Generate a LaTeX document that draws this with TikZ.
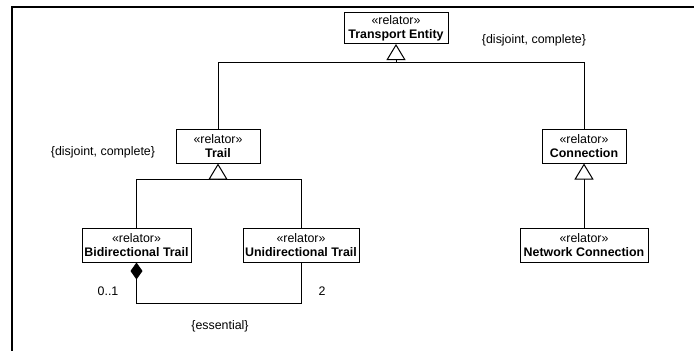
\documentclass[tikz,border=0pt]{standalone}
\usepackage{fontspec}
\setmainfont{Liberation Sans}
\usetikzlibrary{arrows.meta,calc}
\begin{document}
\begin{tikzpicture}[x=1pt,y=-1pt,
  every node/.style={font=\fontsize{12.4}{14}\selectfont},
  cls/.style={draw,line width=1pt,fill=white,inner sep=0pt,align=center,minimum height=34pt},
  gen/.style={draw,line width=1pt,-{Triangle[open,fill=white,length=16pt,width=19pt,line width=1pt]}},
  comp/.style={draw,line width=1pt,{Diamond[length=17pt,width=12pt]}-},
  lbl/.style={inner sep=0pt}
]
\useasboundingbox (0,0) rectangle (694,351);
\draw[line width=2pt] (12,352) -- (12,6.7) -- (695,6.7);

\node[cls,minimum width=104pt,minimum height=31pt] (te) at (396,28) {«relator»\\\textbf{Transport Entity}};
\node[cls,minimum width=84pt] (trail) at (218,146) {«relator»\\\textbf{Trail}};
\node[cls,minimum width=84pt] (conn) at (584,146) {«relator»\\\textbf{Connection}};
\node[cls,minimum width=109pt] (bt) at (136.5,245) {«relator»\\\textbf{Bidirectional Trail}};
\node[cls,minimum width=116pt] (ut) at (301,245) {«relator»\\\textbf{Unidirectional Trail}};
\node[cls,minimum width=128pt] (nc) at (584,245) {«relator»\\\textbf{Network Connection}};

\coordinate (j1) at (396,62);
\coordinate (j2) at (218,179);

\draw[gen] (trail.north) |- (j1) -- (te.south);
\draw[line width=1pt] (conn.north) |- (j1);
\draw[gen] (bt.north) |- (j2) -- (trail.south);
\draw[line width=1pt] (ut.north) |- (j2);
\draw[gen] (nc.north) -- (conn.south);

\draw[comp] (bt.south) |- ($(ut.south)+(0,41)$) -- (ut.south);

\node[lbl] (d1) at (534,40) {\{disjoint, complete\}};
\node[lbl] (d2) at (103,152) {\{disjoint, complete\}};
\node[lbl] (m1) at (108,291) {0..1};
\node[lbl] (m2) at (322,291) {2};
\node[lbl] (ess) at (220,326) {\{essential\}};
\end{tikzpicture}
\end{document}
